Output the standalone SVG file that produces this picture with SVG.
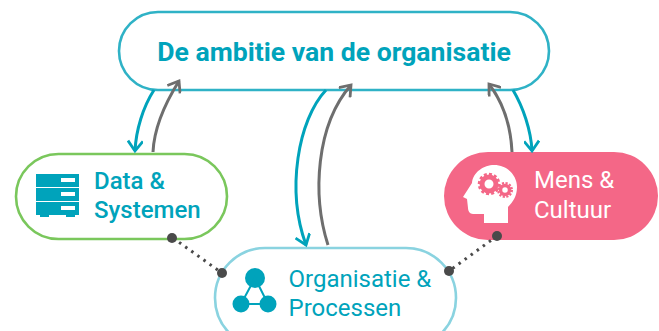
<svg xmlns="http://www.w3.org/2000/svg" width="659" height="331" viewBox="0 0 659 331">
<style>
text{font-family:Roboto,"Liberation Sans",sans-serif;font-size:24px;fill:#00a3bb}
.c{fill:none;stroke-width:3}
.t{stroke:#00a3bb}.g{stroke:#6e6e6e}
.dot{fill:#4a4a4a}
.d{fill:none;stroke:#4a4a4a;stroke-width:3;stroke-dasharray:2.5 5}
.i{fill:#00a3bb}
</style>
<g id="node-ambitie"><rect x="119" y="12" width="430" height="78" rx="39" fill="#fff" stroke="#2fb2c6" stroke-width="2.6"/><text x="334" y="61" text-anchor="middle" style="font-weight:700;font-size:26.6px">De ambitie van de organisatie</text></g>
<g id="node-data"><rect x="16" y="154" width="211" height="85" rx="42.5" fill="#fff" stroke="#7ac75c" stroke-width="2.6"/>
<path class="i" d="M36 174h43v13h-43zM36 188h43v13h-43zM36 202h43v13h-4v2h-9v-2h-17v2h-9v-2h-4z"/><path fill="#fff" d="M61 178h14v4h-14zM61 192h14v4h-14zM61 206h14v4h-14z"/>
<text x="94" y="189" style="font-weight:500">Data &amp;</text><text x="94" y="218" style="font-weight:500">Systemen</text></g>
<g id="node-mens"><rect x="444" y="152" width="214" height="88" rx="44" fill="#f46787"/>
<path fill="#fff" d="M463 197l9-14c1-11 12-18 22-18 14 0 23 11 23 22 0 9-4 15-9 20v16h-24v-9h-11c-3 0-5-3-5-6l-1-9z"/>
<g fill="none" stroke="#f46787"><circle cx="489" cy="184" r="7" stroke-width="5"/><circle cx="489" cy="184" r="10" stroke-width="2.5" stroke-dasharray="3 2.2"/><circle cx="505" cy="190" r="4.5" stroke-width="3.5"/><circle cx="505" cy="190" r="7" stroke-width="2" stroke-dasharray="2.2 1.5"/></g>
<text x="534" y="188" style="fill:#fff">Mens &amp;</text><text x="534" y="218" style="fill:#fff">Cultuur</text></g>
<g id="node-org"><rect x="215" y="248" width="241" height="100" rx="50" fill="#fff" stroke="#8ad3e0" stroke-width="2.6"/>
<g class="i"><circle cx="255" cy="278" r="10"/><circle cx="241" cy="304" r="8.5"/><circle cx="268" cy="304" r="8.5"/></g><path d="M255 278L241 304H268Z" fill="none" stroke="#00a3bb" stroke-width="2"/>
<text x="288.5" y="287">Organisatie &amp;</text><text x="288.5" y="316">Processen</text></g>
<g id="connectors">
<defs><marker id="at" viewBox="0 0 16 16" refX="13" refY="8" markerWidth="16" markerHeight="16" markerUnits="userSpaceOnUse" orient="auto"><path d="M3 0.5L13 8L3 15.5" fill="none" stroke="#00a3bb" stroke-width="2.8"/></marker>
<marker id="ag" viewBox="0 0 16 16" refX="13" refY="8" markerWidth="16" markerHeight="16" markerUnits="userSpaceOnUse" orient="auto"><path d="M3 0.5L13 8L3 15.5" fill="none" stroke="#6e6e6e" stroke-width="2.8"/></marker></defs>
<path class="c t" d="M154 90C143 107 136 130 135 151" marker-end="url(#at)"/>
<path class="c g" d="M153 152C154 130 164 105 179 81" marker-end="url(#ag)"/>
<path class="c t" d="M326 90C298 120 286 190 306 245" marker-end="url(#at)"/>
<path class="c g" d="M328 245C312 195 316 125 351 85" marker-end="url(#ag)"/>
<path class="c t" d="M513 90C523 107 531 130 532 151" marker-end="url(#at)"/>
<path class="c g" d="M512 152C511 130 505 105 489 84" marker-end="url(#ag)"/>
<path class="d" d="M173 238L222 273M497 236L449 271"/>
<circle class="dot" cx="172" cy="238" r="5"/><circle class="dot" cx="222" cy="273" r="5"/><circle class="dot" cx="497" cy="236" r="5"/><circle class="dot" cx="449" cy="271" r="5"/>
</g>
</svg>
